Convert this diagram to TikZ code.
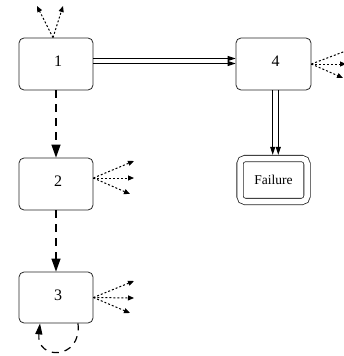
\documentclass[tikz,border=0pt]{standalone}
\usepackage{fontspec}
\setmainfont{Liberation Serif}
\usetikzlibrary{arrows.meta}
\begin{document}
\begin{tikzpicture}[x=1pt,y=-1pt,
  statebox/.style={draw=black!85, line width=0.8pt, rounded corners=5pt,
    minimum width=74pt, minimum height=52pt, inner sep=0pt, font=\fontsize{16}{18}\selectfont},
  lbl/.style={label={[xshift=2pt,yshift=2.5pt,font=\fontsize{16}{18}\selectfont]center:#1}},
  failbox/.style={draw=black!85, line width=0.8pt, rounded corners=5pt, double, double distance=5.5pt,
    minimum width=67pt, minimum height=43pt, inner sep=0pt, outer sep=3.6pt, font=\fontsize{13.5}{15}\selectfont},
  dblarr/.style={line width=1pt, -{Triangle[length=8pt,width=5pt]}},
  dasharr/.style={line width=1.2pt, dash pattern=on 8pt off 6pt, -{Triangle[length=13pt,width=9pt]}},
  looparr/.style={line width=1.2pt, dash pattern=on 7pt off 6pt, -{Triangle[length=11pt,width=7pt]}},
  dotarr/.style={line width=1pt, dash pattern=on 2pt off 2pt, -{Triangle[length=6pt,width=5pt]}}
]
\useasboundingbox (0,0) rectangle (344,356);

\node[statebox, lbl=1] (n1) at (56,64) {};
\node[statebox, lbl=4, minimum width=75pt] (n4) at (273.5,64) {};
\node[statebox, lbl=2] (n2) at (56,184) {};
\node[statebox, lbl=3, minimum height=51pt] (n3) at (56,297.5) {};
\node[failbox] (f) at (273.5,180) {Failure};

% double arrows
\draw[dblarr] ([yshift=5.5pt]n1.east) -- ([yshift=5.5pt]n4.west);
\draw[dblarr] ([yshift=0.5pt]n1.east) -- ([yshift=0.5pt]n4.west);
\draw[dblarr] ([xshift=-0.8pt]n4.south) -- ([xshift=-0.8pt]f.north);
\draw[dblarr] ([xshift=4.8pt]n4.south) -- ([xshift=4.8pt]f.north);

% dashed arrows
\draw[dasharr] (n1) -- (n2);
\draw[dasharr] (n2) -- (n3);
\draw[looparr] ([xshift=22pt]n3.south) .. controls +(4,37) and +(-4,37) .. ([xshift=-16pt]n3.south);

% free ends
\coordinate (t1a) at (37,6);
\coordinate (t1b) at (63,6);
\coordinate (t2a) at (134,161);
\coordinate (t2b) at (134,178);
\coordinate (t2c) at (130,194);
\coordinate (t3a) at (134,281);
\coordinate (t3b) at (134,298);
\coordinate (t3c) at (130,313);
\coordinate (t4a) at (351,49);
\coordinate (t4b) at (346,64);
\coordinate (t4c) at (343,78);

% dotted arrows
\draw[dotarr] ([xshift=-3pt]n1.north) -- (t1a);
\draw[dotarr] ([xshift=-3pt]n1.north) -- (t1b);
\draw[dotarr] ([yshift=6pt]n2.east) -- (t2a);
\draw[dotarr] ([yshift=6pt]n2.east) -- (t2b);
\draw[dotarr] ([yshift=6pt]n2.east) -- (t2c);
\draw[dotarr] (n3.east) -- (t3a);
\draw[dotarr] (n3.east) -- (t3b);
\draw[dotarr] (n3.east) -- (t3c);
\draw[dotarr] (n4.east) -- (t4a);
\draw[dotarr] (n4.east) -- (t4b);
\draw[dotarr] (n4.east) -- (t4c);
\end{tikzpicture}
\end{document}
